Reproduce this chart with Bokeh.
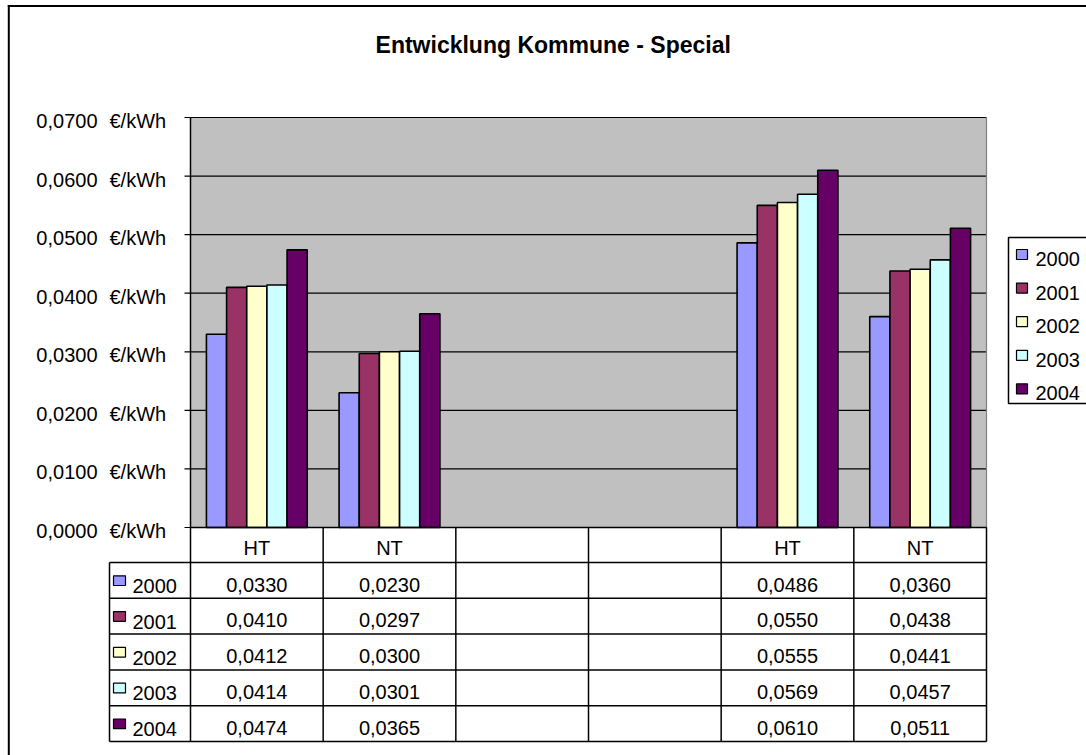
from bokeh.plotting import figure
from bokeh.models import Range1d
from bokeh.core.properties import value
from bokeh.embed import file_html
from bokeh.resources import INLINE

# ---------------- data ----------------
title = "Entwicklung Kommune - Special"
categories = ["HT", "NT", "", "", "HT", "NT"]
years = ["2000", "2001", "2002", "2003", "2004"]
values_2000 = [0.0330, 0.0230, None, None, 0.0486, 0.0360]
values_2001 = [0.0410, 0.0297, None, None, 0.0550, 0.0438]
values_2002 = [0.0412, 0.0300, None, None, 0.0555, 0.0441]
values_2003 = [0.0414, 0.0301, None, None, 0.0569, 0.0457]
values_2004 = [0.0474, 0.0365, None, None, 0.0610, 0.0511]
series = [values_2000, values_2001, values_2002, values_2003, values_2004]
y_ticks = [0.0, 0.01, 0.02, 0.03, 0.04, 0.05, 0.06, 0.07]
unit = "€/kWh"

colors = ["#9999FF", "#993366", "#FFFFCC", "#CCFFFF", "#660066"]
FONT = value("Liberation Sans")
FS = 20          # text size, px
TS = 23          # title size, px
MID = 0.35       # baseline -> middle anchor, in em

# ---------------- layout (page pixel coordinates) ----------------
W, H = 1086, 755
OX, OY = 0, 0                        # figure origin on page
PL, PR, PT, PB = 190, 986, 117, 527  # plot area on page
ncat = len(categories)
ymax = y_ticks[-1]
cat_px = (PR - PL) / ncat
val_px = (PB - PT) / ymax

xs = -(PL - OX) / cat_px
xe = xs + W / cat_px
ye = ymax + (PT - OY) / val_px
ys = -(OY + H - PB) / val_px

p = figure(width=W, height=H, x_range=Range1d(xs, xe), y_range=Range1d(ys, ye),
           output_backend="svg", toolbar_location=None, min_border=0,
           x_axis_location=None, y_axis_location=None)
p.xgrid.visible = False
p.ygrid.visible = False
p.outline_line_color = None
p.background_fill_color = "white"
p.border_fill_color = "white"
p.extra_x_ranges = {"px": Range1d(OX, OX + W)}
p.extra_y_ranges = {"px": Range1d(OY + H, OY)}

def mid(baseline, fs=FS):
    return baseline - MID * fs

# plot area
p.quad(left=[0], right=[ncat], bottom=[0], top=[ymax], fill_color="#C0C0C0", line_color=None)
p.segment(x0=[0] * len(y_ticks), x1=[ncat] * len(y_ticks), y0=y_ticks, y1=y_ticks,
          line_color="black", line_width=1.2)
p.segment(x0=[PL - 6] * len(y_ticks), x1=[PL] * len(y_ticks), y0=y_ticks, y1=y_ticks,
          line_color="black", line_width=1.2, x_range_name="px")
p.segment(x0=[0], x1=[0], y0=[0], y1=[ymax], line_color="black", line_width=1.5)
p.segment(x0=[ncat], x1=[ncat], y0=[0], y1=[ymax], line_color="#808080", line_width=1.2)

# bars
nser = len(series)
bw = 0.76 / nser
for j, (vals, col) in enumerate(zip(series, colors)):
    bx = [i + 0.5 + (j - (nser - 1) / 2) * bw for i, v in enumerate(vals) if v is not None]
    bt = [v for v in vals if v is not None]
    p.vbar(x=bx, width=bw, top=bt, bottom=0, fill_color=col, line_color="black", line_width=1.6)

# y tick labels
tick_txt = [f"{t:.4f}".replace(".", ",") for t in y_ticks]
p.text(x=[97] * len(y_ticks), y=y_ticks, text=tick_txt, x_range_name="px",
       text_font=FONT, text_font_size=f"{FS}px", text_align="right",
       text_baseline="middle", y_offset=10.5 - MID * FS, text_color="black")
p.text(x=[109] * len(y_ticks), y=y_ticks, text=[unit] * len(y_ticks), x_range_name="px",
       text_font=FONT, text_font_size=f"{FS}px", text_align="left",
       text_baseline="middle", y_offset=10.5 - MID * FS, text_color="black")

# title
p.text(x=[552.7], y=[mid(52.3, TS)], text=[title], x_range_name="px", y_range_name="px",
       text_font=FONT, text_font_size=f"{TS}px", text_font_style="bold",
       text_align="center", text_baseline="middle", text_color="black")

# data table
HDR_T, HDR_B = 527, 562
ROW_H = 35.8
LC = (109 - PL) / cat_px
row_tops = [HDR_B + k * ROW_H for k in range(nser)]
tab_bottom = HDR_B + nser * ROW_H
hl_y = [HDR_T] + row_tops + [tab_bottom]
hl_x0 = [0] + [LC] * (nser + 1)
p.segment(x0=hl_x0, x1=[ncat] * len(hl_y), y0=hl_y, y1=hl_y, y_range_name="px",
          line_color="black", line_width=1.5)
vx = list(range(ncat + 1))
p.segment(x0=vx, x1=vx, y0=[HDR_T] * len(vx), y1=[tab_bottom] * len(vx), y_range_name="px",
          line_color="black", line_width=1.5)
p.segment(x0=[LC], x1=[LC], y0=[HDR_B], y1=[tab_bottom], y_range_name="px",
          line_color="black", line_width=1.5)

p.text(x=[i + 0.5 for i in range(ncat)], y=[mid(HDR_T + 27.5)] * ncat, text=categories,
       y_range_name="px", text_font=FONT, text_font_size=f"{FS}px", text_align="center",
       text_baseline="middle", text_color="black")
for j, vals in enumerate(series):
    tx = [i + 0.5 for i, v in enumerate(vals) if v is not None]
    tt = [f"{v:.4f}".replace(".", ",") for v in vals if v is not None]
    p.text(x=tx, y=[mid(row_tops[j] + 29)] * len(tx), text=tt, y_range_name="px",
           text_font=FONT, text_font_size=f"{FS}px", text_align="center",
           text_baseline="middle", text_color="black")

# legend keys in the table
p.quad(left=[113] * nser, right=[125] * nser,
       top=[t + 13.3 for t in row_tops], bottom=[t + 23 for t in row_tops],
       x_range_name="px", y_range_name="px", fill_color=colors, line_color="black", line_width=1.2)
p.text(x=[132] * nser, y=[mid(t + 30.5) for t in row_tops], text=years,
       x_range_name="px", y_range_name="px", text_font=FONT, text_font_size=f"{FS}px",
       text_align="left", text_baseline="middle", text_color="black")

# legend at right
p.quad(left=[1008], right=[1100], top=[237], bottom=[403], x_range_name="px", y_range_name="px",
       fill_color="white", line_color="black", line_width=1.5)
leg_base = [265.5 + k * 33.6 for k in range(nser)]
p.quad(left=[1016] * nser, right=[1027] * nser, top=[b - 16.5 for b in leg_base],
       bottom=[b - 6.5 for b in leg_base], x_range_name="px", y_range_name="px",
       fill_color=colors, line_color="black", line_width=1.2)
p.text(x=[1035] * nser, y=[mid(b) for b in leg_base], text=years, x_range_name="px",
       y_range_name="px", text_font=FONT, text_font_size=f"{FS}px", text_align="left",
       text_baseline="middle", text_color="black")

# chart outer border (left and top visible)
p.segment(x0=[8.3, 7.3], x1=[8.3, OX + W], y0=[4.5, 5.5], y1=[OY + H, 5.5],
          x_range_name="px", y_range_name="px", line_color="black", line_width=2)

open("out.html", "w").write(file_html(p, INLINE))
